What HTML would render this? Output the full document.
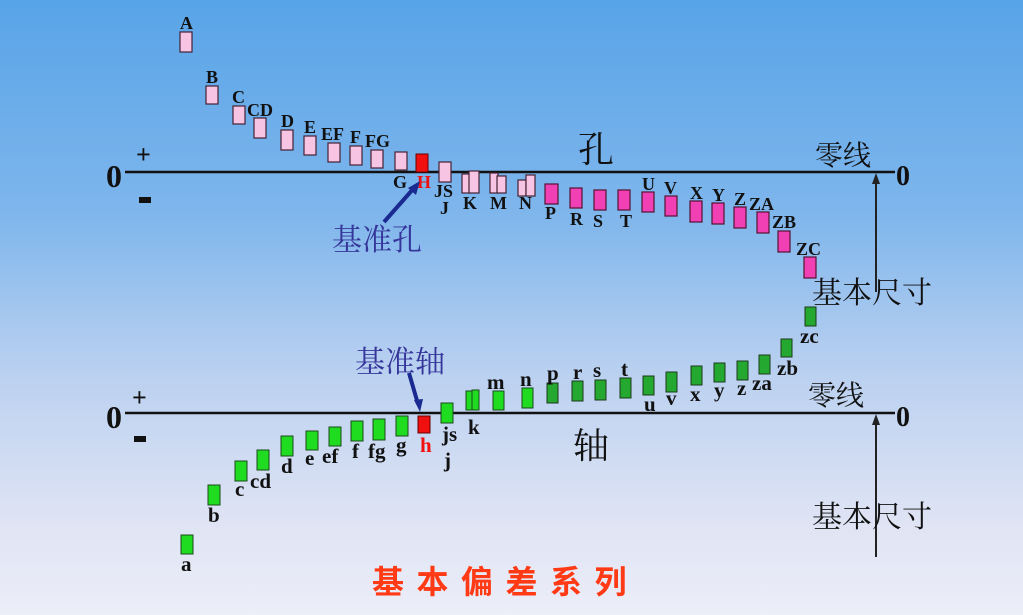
<!DOCTYPE html>
<html><head><meta charset="utf-8"><style>
html,body{margin:0;padding:0;width:1023px;height:615px;overflow:hidden}
svg{display:block}
.l{font-family:"Liberation Serif",serif;font-weight:bold;fill:#111}
.c{font-family:"Liberation Serif","Noto Serif CJK SC",serif;fill:#111}
</style></head><body>
<svg width="1023" height="615" viewBox="0 0 1023 615" xmlns="http://www.w3.org/2000/svg">
<defs>
<linearGradient id="bg" x1="0" y1="0" x2="0" y2="1">
<stop offset="0" stop-color="#58a4e8"/>
<stop offset="0.35" stop-color="#7fb6ec"/>
<stop offset="0.6" stop-color="#b9d0f0"/>
<stop offset="0.85" stop-color="#dfe4f4"/>
<stop offset="1" stop-color="#eceef8"/>
</linearGradient>
</defs>
<rect width="1023" height="615" fill="url(#bg)"/>

<!-- hole zero line -->
<line x1="125" y1="172" x2="895" y2="172" stroke="#111" stroke-width="2.5"/>
<text class="l" x="106" y="187" style="font-size:32px">0</text>
<text class="l" x="136" y="163" style="font-size:26px">+</text>
<rect x="139" y="197" width="12" height="6" fill="#111"/>
<text class="l" x="896" y="185" style="font-size:28px">0</text>
<text class="c" x="578" y="162" style="font-size:36px">孔</text>
<text class="c" x="815" y="165" style="font-size:28px">零线</text>
<line x1="876" y1="292" x2="876" y2="180" stroke="#222" stroke-width="2"/>
<polygon points="876,173 872,184 880,184" fill="#222"/>
<text class="c" x="812" y="303" style="font-size:30px">基本尺寸</text>

<g fill="#f8c4e4" stroke="#442233" stroke-width="1.2">
<rect x="180" y="32" width="12" height="20"/>
<rect x="206" y="86" width="12" height="18"/>
<rect x="233" y="106" width="12" height="18"/>
<rect x="254" y="118" width="12" height="20"/>
<rect x="281" y="130" width="12" height="20"/>
<rect x="304" y="136" width="12" height="19"/>
<rect x="328" y="143" width="12" height="19"/>
<rect x="350" y="146" width="12" height="19"/>
<rect x="371" y="150" width="12" height="18"/>
<rect x="395" y="152" width="12" height="18"/>
<rect x="439" y="162" width="12" height="20"/>
<rect x="462" y="174" width="8" height="19"/>
<rect x="469" y="171" width="10" height="22"/>
<rect x="490" y="173" width="8" height="20"/>
<rect x="497" y="176" width="9" height="17"/>
<rect x="518" y="180" width="8" height="16"/>
<rect x="526" y="175" width="9" height="21"/>
</g>
<rect x="416" y="154" width="12" height="18" fill="#f01010" stroke="#600" stroke-width="1"/>
<g fill="#f040b4" stroke="#551133" stroke-width="1.2">
<rect x="545" y="184" width="13" height="20"/>
<rect x="570" y="188" width="12" height="20"/>
<rect x="594" y="190" width="12" height="20"/>
<rect x="618" y="190" width="12" height="20"/>
<rect x="642" y="192" width="12" height="20"/>
<rect x="665" y="196" width="12" height="20"/>
<rect x="690" y="201" width="12" height="21"/>
<rect x="712" y="203" width="12" height="21"/>
<rect x="734" y="207" width="12" height="21"/>
<rect x="757" y="212" width="12" height="21"/>
<rect x="778" y="231" width="12" height="21"/>
<rect x="804" y="257" width="12" height="21"/>
</g>
<g class="l" style="font-size:18px">
<text x="180" y="29">A</text>
<text x="206" y="83">B</text>
<text x="232" y="103">C</text>
<text x="247" y="116">CD</text>
<text x="281" y="127">D</text>
<text x="304" y="133">E</text>
<text x="321" y="140">EF</text>
<text x="350" y="143">F</text>
<text x="365" y="147">FG</text>
<text x="393" y="188">G</text>
<text x="417" y="188" fill="#f01010">H</text>
<text x="434" y="197">JS</text>
<text x="440" y="214">J</text>
<text x="463" y="209">K</text>
<text x="490" y="209">M</text>
<text x="519" y="209">N</text>
<text x="545" y="219">P</text>
<text x="570" y="225">R</text>
<text x="593" y="227">S</text>
<text x="620" y="227">T</text>
<text x="642" y="190">U</text>
<text x="664" y="194">V</text>
<text x="690" y="199">X</text>
<text x="712" y="201">Y</text>
<text x="734" y="205">Z</text>
<text x="749" y="210">ZA</text>
<text x="772" y="228">ZB</text>
<text x="796" y="255">ZC</text>
</g>
<text class="c" x="332" y="250" style="font-size:30px;fill:#35359a">基准孔</text>
<line x1="384" y1="222" x2="414" y2="188" stroke="#1a2a90" stroke-width="4"/>
<polygon points="420,181 408,188 416,195" fill="#1a2a90"/>

<!-- shaft zero line -->
<line x1="125" y1="413" x2="895" y2="413" stroke="#111" stroke-width="2.5"/>
<text class="l" x="106" y="428" style="font-size:32px">0</text>
<text class="l" x="132" y="406" style="font-size:26px">+</text>
<rect x="134" y="436" width="12" height="6" fill="#111"/>
<text class="l" x="896" y="426" style="font-size:28px">0</text>
<text class="c" x="573" y="458" style="font-size:36px">轴</text>
<text class="c" x="808" y="405" style="font-size:28px">零线</text>
<line x1="876" y1="557" x2="876" y2="420" stroke="#222" stroke-width="2"/>
<polygon points="876,414 872,425 880,425" fill="#222"/>
<text class="c" x="812" y="527" style="font-size:30px">基本尺寸</text>

<g fill="#20dc20" stroke="#1a4a1a" stroke-width="1">
<rect x="181" y="535" width="12" height="19"/>
<rect x="208" y="485" width="12" height="20"/>
<rect x="235" y="461" width="12" height="20"/>
<rect x="257" y="450" width="12" height="20"/>
<rect x="281" y="436" width="12" height="20"/>
<rect x="306" y="431" width="12" height="19"/>
<rect x="329" y="427" width="12" height="19"/>
<rect x="351" y="421" width="12" height="20"/>
<rect x="373" y="419" width="12" height="21"/>
<rect x="396" y="416" width="12" height="20"/>
<rect x="441" y="403" width="12" height="20"/>
<rect x="466" y="391" width="7" height="19"/>
<rect x="472" y="390" width="7" height="20"/>
<rect x="493" y="391" width="11" height="19"/>
<rect x="522" y="388" width="11" height="20"/>
</g>
<rect x="418" y="416" width="12" height="17" fill="#f01010" stroke="#600" stroke-width="1"/>
<g fill="#25a830" stroke="#1a3a1a" stroke-width="1">
<rect x="547" y="383" width="11" height="20"/>
<rect x="572" y="381" width="11" height="20"/>
<rect x="595" y="380" width="11" height="20"/>
<rect x="620" y="378" width="11" height="20"/>
<rect x="643" y="376" width="11" height="19"/>
<rect x="666" y="372" width="11" height="20"/>
<rect x="691" y="366" width="11" height="19"/>
<rect x="714" y="363" width="11" height="19"/>
<rect x="737" y="361" width="11" height="19"/>
<rect x="759" y="355" width="11" height="19"/>
<rect x="781" y="339" width="11" height="18"/>
<rect x="805" y="307" width="11" height="19"/>
</g>
<g class="l" style="font-size:21px">
<text x="181" y="571">a</text>
<text x="208" y="522">b</text>
<text x="235" y="496">c</text>
<text x="250" y="488">cd</text>
<text x="281" y="473">d</text>
<text x="305" y="465">e</text>
<text x="322" y="463">ef</text>
<text x="352" y="458">f</text>
<text x="368" y="458">fg</text>
<text x="396" y="452">g</text>
<text x="420" y="452" fill="#f01010">h</text>
<text x="442" y="441">js</text>
<text x="444" y="467">j</text>
<text x="468" y="434">k</text>
<text x="487" y="389">m</text>
<text x="520" y="386">n</text>
<text x="547" y="380">p</text>
<text x="573" y="379">r</text>
<text x="593" y="377">s</text>
<text x="621" y="376">t</text>
<text x="644" y="411">u</text>
<text x="666" y="405">v</text>
<text x="690" y="401">x</text>
<text x="714" y="397">y</text>
<text x="737" y="395">z</text>
<text x="752" y="390">za</text>
<text x="777" y="375">zb</text>
<text x="800" y="343">zc</text>
</g>
<text class="c" x="355" y="372" style="font-size:30px;fill:#35359a">基准轴</text>
<line x1="409" y1="373" x2="418" y2="404" stroke="#1a2a90" stroke-width="4"/>
<polygon points="420,412 414,400 423,399" fill="#1a2a90"/>

<text x="372" y="593" style="font-family:'Noto Sans CJK SC',sans-serif;font-weight:bold;font-size:32px;fill:#ff3a14;letter-spacing:12.5px">基本偏差系列</text>
</svg>
</body></html>
